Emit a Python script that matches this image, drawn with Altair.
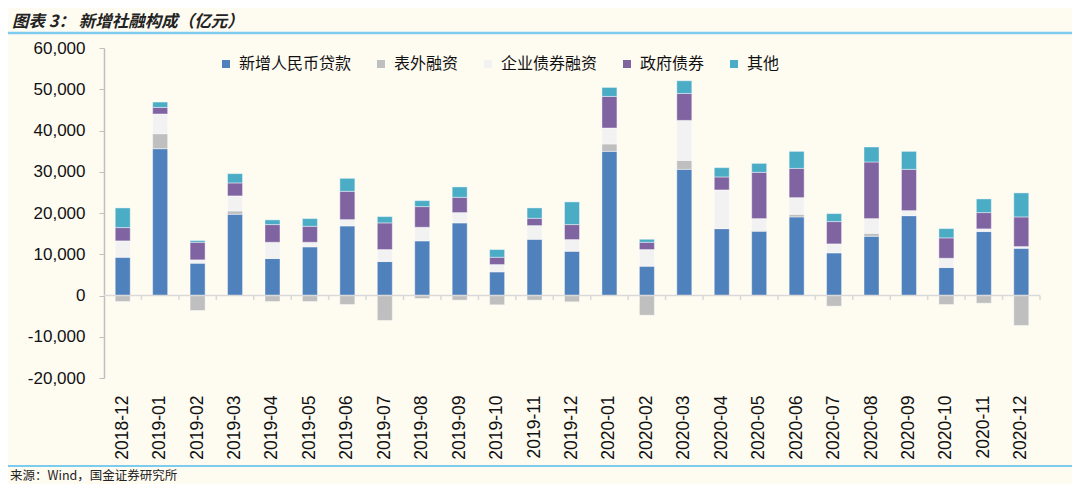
import altair as alt
import pandas as pd

months = ["2018-12", "2019-01", "2019-02", "2019-03", "2019-04", "2019-05", "2019-06",
          "2019-07", "2019-08", "2019-09", "2019-10", "2019-11", "2019-12", "2020-01",
          "2020-02", "2020-03", "2020-04", "2020-05", "2020-06", "2020-07", "2020-08",
          "2020-09", "2020-10", "2020-11", "2020-12"]
loans = [9270, 35590, 7830, 19690, 8960, 11790, 16870, 8230, 13240, 17600, 5730, 13630, 10730,
         34940, 7100, 30580, 16220, 15570, 19050, 10330, 14360, 19370, 6780, 15500, 11450]
offbal = [-1450, 3640, -3630, 810, -1450, -1450, -2180, -6050, -730, -1130, -2260, -1130, -1530,
          1790, -4770, 2180, 0, 240, 640, -2580, 720, 0, -2180, -1860, -7260]
corp = [3970, 4770, 810, 3640, 3940, 1110, 1530, 2910, 3300, 2500, 1770, 3320, 2830,
        3870, 4040, 9690, 9370, 2830, 4040, 2180, 3560, 1210, 2250, 650, 410]
gov = [3220, 1600, 4260, 3150, 4290, 3880, 6860, 6460, 5010, 3700, 1770, 1770, 3630,
       7660, 1760, 6530, 3150, 11220, 7090, 5410, 13730, 10000, 4940, 3950, 7190]
other = [4770, 1300, 420, 2250, 1140, 1860, 3140, 1530, 1450, 2520, 1870, 2510, 5500,
         2180, 730, 3080, 2250, 2170, 4120, 1930, 3630, 4360, 2250, 3310, 5820]

series_names = ["新增人民币贷款", "表外融资", "企业债券融资", "政府债券", "其他"]
series_colors = ["#4F81BD", "#BFBFBF", "#F2F2F2", "#8064A2", "#4BACC6"]
y_ticks = [-20000, -10000, 0, 10000, 20000, 30000, 40000, 50000, 60000]

rows = []
for i, m in enumerate(months):
    for k, (name, vals) in enumerate(zip(series_names, [loans, offbal, corp, gov, other])):
        rows.append({"month": m, "series": name, "value": vals[i], "order": k})
df = pd.DataFrame(rows)

W, H = 936, 330
BG = "#FEFBF1"
FONT = "Liberation Sans"
CJK = "Noto Sans CJK SC"

xenc = alt.X("month:N", sort=months,
             scale=alt.Scale(paddingInner=0.6, paddingOuter=0.3),
             axis=alt.Axis(labelAngle=-90, domain=False, ticks=False, labelPadding=17,
                           labelFontSize=17.5, labelFont=FONT, labelColor="#111", title=None))

bars = alt.Chart(df).mark_bar(size=15, stroke="#FFFFFF", strokeWidth=0.6, strokeOpacity=0.7).encode(
    x=xenc,
    y=alt.Y("value:Q", stack="zero",
            scale=alt.Scale(domain=[-20000, 60000], nice=False, zero=False),
            axis=alt.Axis(values=y_ticks, format=",.0f",
                          labelExpr="replace(format(datum.value, ',.0f'), '\u2212', '-')",
                          tickSize=5, grid=False,
                          domainColor="#BFBFBF", tickColor="#BFBFBF", domainWidth=1.5,
                          labelPadding=14, labelFontSize=17, labelFont=FONT,
                          labelColor="#111", title=None)),
    color=alt.Color("series:N", sort=series_names,
                    scale=alt.Scale(domain=series_names, range=series_colors),
                    legend=alt.Legend(title=None, orient="none", direction="horizontal",
                                      legendX=114, legendY=8, symbolType="square",
                                      symbolSize=64, symbolStrokeWidth=0, labelFont=CJK,
                                      labelFontSize=16, labelColor="#111", labelOffset=5,
                                      columnPadding=21)),
    order=alt.Order("order:Q"),
)

zero_line = alt.Chart(pd.DataFrame({"v": [0]})).mark_rule(color="#D9D9D9", strokeWidth=1.5).encode(
    y=alt.Y("v:Q"))

tick_df = pd.DataFrame({"month": months, "y0": [0] * len(months), "y1": [-1100] * len(months)})
ticks = alt.Chart(tick_df).mark_rule(color="#D9D9D9", strokeWidth=1.5, xOffset=W / 25 / 2).encode(
    x=alt.X("month:N", sort=months), y="y0:Q", y2="y1:Q")

one = pd.DataFrame({"a": [0]})
title_txt = alt.Chart(one).mark_text(text="图表 3：  新增社融构成（亿元）", font=CJK, fontSize=16.5,
                                     fontWeight="bold", fontStyle="italic", align="left",
                                     baseline="middle", color="#222").encode(
    x=alt.value(-92), y=alt.value(-26))
top_line = alt.Chart(one).mark_rule(color="#7DCBEF", strokeWidth=2.5).encode(
    x=alt.value(-96), x2=alt.value(W + 32), y=alt.value(-15))
bottom_line = alt.Chart(one).mark_rule(color="#7DCBEF", strokeWidth=2).encode(
    x=alt.value(-96), x2=alt.value(W + 32), y=alt.value(418))
source_txt = alt.Chart(one).mark_text(text="来源：Wind，国金证券研究所", font=CJK, fontSize=12.5,
                                      align="left", baseline="middle", color="#222").encode(
    x=alt.value(-94), y=alt.value(428))

chart = alt.layer(bars, zero_line, ticks, title_txt, top_line, bottom_line, source_txt).properties(
    width=W, height=H,
    autosize=alt.AutoSizeParams(type="none"),
    padding={"left": 96, "top": 40, "right": 32, "bottom": 106},
    background=BG,
).configure_view(stroke=None).resolve_scale(x="shared")

chart.save("out.html", embed_options={"renderer": "svg", "actions": False})
